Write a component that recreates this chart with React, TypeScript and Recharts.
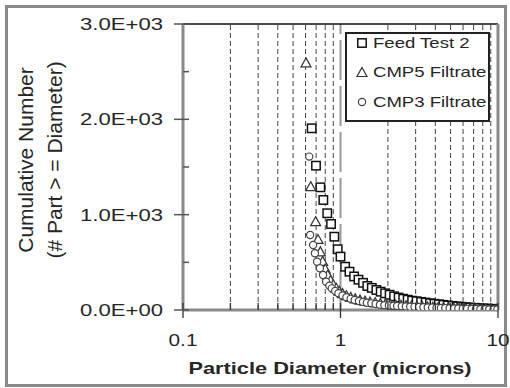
import React from 'react';
import { ScatterChart, Scatter, XAxis, YAxis, ReferenceLine, Legend } from 'recharts';

const seriesNames = ['Feed Test 2', 'CMP5 Filtrate', 'CMP3 Filtrate'];

const feedX = [0.656, 0.699, 0.745, 0.778, 0.824, 0.871, 0.914, 0.96, 1.0, 1.07, 1.14, 1.22, 1.3, 1.39, 1.48, 1.58, 1.69, 1.8, 1.92, 2.05, 2.19, 2.34, 2.5, 2.67, 2.85, 3.04, 3.25, 3.47, 3.7, 3.95, 4.22, 4.5, 4.8, 5.13, 5.48, 5.85, 6.24, 6.66, 7.11, 7.6, 8.1, 8.65, 9.24, 9.86];
const feedY = [1906, 1514, 1287, 1154, 1015, 902, 769, 637, 560, 454, 402, 352, 318, 285, 252, 232, 210, 192, 175, 160, 143, 130, 118, 108, 98, 92, 85, 78, 71, 65, 60, 54, 48, 43, 38, 34, 30, 26, 23, 20, 17, 14, 12, 9];

const cmp5X = [0.604, 0.647, 0.695, 0.72, 0.745, 0.77, 0.8, 0.83, 0.865, 0.9, 0.94, 0.98, 1.03, 1.09, 1.16, 1.24, 1.33, 1.43, 1.54, 1.66, 1.79, 1.93, 2.08, 2.24, 2.42, 2.61, 2.82, 3.05, 3.3, 3.57, 3.86, 4.17, 4.5, 4.86, 5.25, 5.67, 6.12, 6.61, 7.14, 7.71, 8.33, 9.0, 9.72];
const cmp5Y = [2592, 1294, 927, 740, 610, 510, 430, 365, 310, 265, 228, 198, 172, 150, 132, 117, 104, 93, 84, 76, 69, 63, 58, 53, 49, 45, 41, 38, 35, 32, 29, 26, 24, 21, 19, 17, 15, 13, 11, 9, 8, 7, 6];

const cmp3X = [0.633, 0.642, 0.67, 0.688, 0.71, 0.74, 0.775, 0.81, 0.85, 0.88, 0.925, 0.97, 1.03, 1.09, 1.16, 1.23, 1.31, 1.39, 1.47, 1.57, 1.67, 1.78, 1.9, 2.03, 2.17, 2.29, 2.45, 2.6, 2.77, 2.95, 3.15, 3.36, 3.58, 3.82, 4.07, 4.34, 4.63, 4.93, 5.26, 5.6, 5.98, 6.37, 6.8, 7.25, 7.73, 8.24, 8.79, 9.37, 9.9];
const cmp3Y = [1609, 787, 682, 595, 507, 437, 367, 297, 255, 227, 200, 175, 152, 133, 117, 105, 94, 85, 77, 70, 63, 56, 51, 47, 44, 42, 40, 37, 35, 33, 31, 29, 27, 25, 23, 21, 20, 18, 17, 15, 14, 12, 11, 10, 8, 7, 6, 5, 4];

const xTicks = [0.1, 0.2, 0.3, 0.4, 0.5, 0.6, 0.7, 0.8, 0.9, 1, 2, 3, 4, 5, 6, 7, 8, 9, 10];
const xMajor = [0.1, 1, 10];
const xTickLabels = ['0.1', '1', '10'];
const yTicks = [0, 500, 1000, 1500, 2000, 2500, 3000];
const yMajor = [0, 1000, 2000, 3000];
const yTickLabels = ['0.0E+00', '1.0E+03', '2.0E+03', '3.0E+03'];
const gridX = [0.2, 0.3, 0.4, 0.5, 0.6, 0.7, 0.8, 0.9, 2, 3, 4, 5, 6, 7, 8, 9];

const xTitle = 'Particle Diameter (microns)';
const yTitle1 = 'Cumulative Number';
const yTitle2 = '(# Part > = Diameter)';

const zip = (xs: number[], ys: number[]) => xs.map((x, i) => ({ x, y: ys[i] }));
const feedData = zip(feedX, feedY);
const cmp5Data = zip(cmp5X, cmp5Y);
const cmp3Data = zip(cmp3X, cmp3Y);

const FONT = '"Liberation Sans", Arial, sans-serif';
const TXT = '#262626';

const SquareShape = (p: any) => (
  <rect x={p.cx - 4.2} y={p.cy - 4.2} width={8.4} height={8.4} fill="#fff" stroke="#111" strokeWidth={1.5} />
);
const TriShape = (p: any) => (
  <polygon points={`${p.cx},${p.cy - 5} ${p.cx + 5},${p.cy + 4} ${p.cx - 5},${p.cy + 4}`} fill="#fff" stroke="#333" strokeWidth={1.2} />
);
const CircShape = (p: any) => (
  <circle cx={p.cx} cy={p.cy} r={3.6} fill="#fff" stroke="#444" strokeWidth={1.2} />
);

const XTick = (props: any) => {
  const { x, y, payload } = props;
  const idx = xMajor.indexOf(payload.value);
  const major = idx >= 0;
  return (
    <g>
      <line x1={x} x2={x} y1={y - 7} y2={major ? y + 8 : y} stroke="#333" strokeWidth={1.3} />
      {major && (
        <text transform={`translate(${x},${y + 30}) scale(1.3,1)`} textAnchor="middle" dominantBaseline="central"
          fontFamily={FONT} fontSize={16} fill={TXT}>{xTickLabels[idx]}</text>
      )}
    </g>
  );
};

const YTick = (props: any) => {
  const { x, y, payload } = props;
  const idx = yMajor.indexOf(payload.value);
  const major = idx >= 0;
  return (
    <g>
      <line x1={major ? x - 9 : x} x2={x + 6} y1={y} y2={y} stroke="#555" strokeWidth={1.5} />
      {major && (
        <text transform={`translate(${x - 20},${y}) scale(1.3,1)`} textAnchor="end" dominantBaseline="central"
          fontFamily={FONT} fontSize={17} fill={TXT}>{yTickLabels[idx]}</text>
      )}
    </g>
  );
};

const XLabel = () => (
  <text transform="translate(330,368) scale(1.32,1)" textAnchor="middle" dominantBaseline="central"
    fontFamily={FONT} fontSize={16.5} fontWeight="bold" fill={TXT}>{xTitle}</text>
);

const YLabel = () => (
  <g fontFamily={FONT} fontSize={21} fill={TXT}>
    <text transform="translate(33,160) rotate(-90)" textAnchor="middle">{yTitle1}</text>
    <text transform="translate(62,160) rotate(-90)" textAnchor="middle">{yTitle2}</text>
  </g>
);

const shapes = [SquareShape, TriShape, CircShape];

const LegendBox = () => (
  <div style={{ width: 145, height: 90, boxSizing: 'border-box', border: '2px solid #222', background: '#fff' }}>
    <svg width={141} height={86} style={{ display: 'block' }}>
      {seriesNames.map((name, i) => {
        const cy = 9 + i * 29.5;
        const S = shapes[i];
        return (
          <g key={name}>
            <S cx={15} cy={cy} />
            <text transform={`translate(26,${cy}) scale(1.28,1)`} dominantBaseline="central" fontFamily={FONT}
              fontSize={14.5} fill={TXT}>{name}</text>
          </g>
        );
      })}
    </svg>
  </div>
);

export default function App() {
  return (
    <div style={{ position: 'absolute', left: 0, top: 0, width: 510, height: 388, background: '#fff' }}>
      <div style={{ position: 'absolute', left: 5, top: 5, width: 502, height: 382, boxSizing: 'border-box', border: '3px solid #8a8a8a' }} />
      <div style={{ position: 'absolute', left: 0, top: 0 }}>
        <ScatterChart width={510} height={388} margin={{ top: 24, right: 12, bottom: 0, left: 0 }}>
          <XAxis dataKey="x" type="number" scale="log" domain={[0.1, 10]} ticks={xTicks} allowDataOverflow
            height={78} tickSize={0} tickMargin={0} tick={<XTick />} axisLine={{ stroke: '#8a8a8a', strokeWidth: 3 }}
            interval={0} label={{ content: () => <XLabel /> }} />
          <YAxis dataKey="y" type="number" domain={[0, 3000]} ticks={yTicks} allowDataOverflow width={183}
            tickSize={0} tickMargin={0} tick={<YTick />} axisLine={{ stroke: '#8a8a8a', strokeWidth: 3 }}
            interval={0} label={{ content: () => <YLabel /> }} />
          {gridX.map((g) => (
            <ReferenceLine key={g} x={g} stroke="#444" strokeWidth={1} strokeDasharray="5 3" />
          ))}
          <ReferenceLine x={1} stroke="#9a9a9a" strokeWidth={2} strokeDasharray="40 6" />
          <ReferenceLine y={3000} stroke="#111" strokeWidth={1.5} />
          <ReferenceLine x={10} stroke="#8a8a8a" strokeWidth={3} />
          <Legend layout="vertical" align="center" verticalAlign="middle" content={() => <LegendBox />}
            wrapperStyle={{ left: 345, top: 32, width: 145, height: 90 }} />
          <Scatter name={seriesNames[0]} data={feedData} shape={SquareShape} isAnimationActive={false} />
          <Scatter name={seriesNames[1]} data={cmp5Data} shape={TriShape} isAnimationActive={false} />
          <Scatter name={seriesNames[2]} data={cmp3Data} shape={CircShape} isAnimationActive={false} />
        </ScatterChart>
      </div>
    </div>
  );
}
